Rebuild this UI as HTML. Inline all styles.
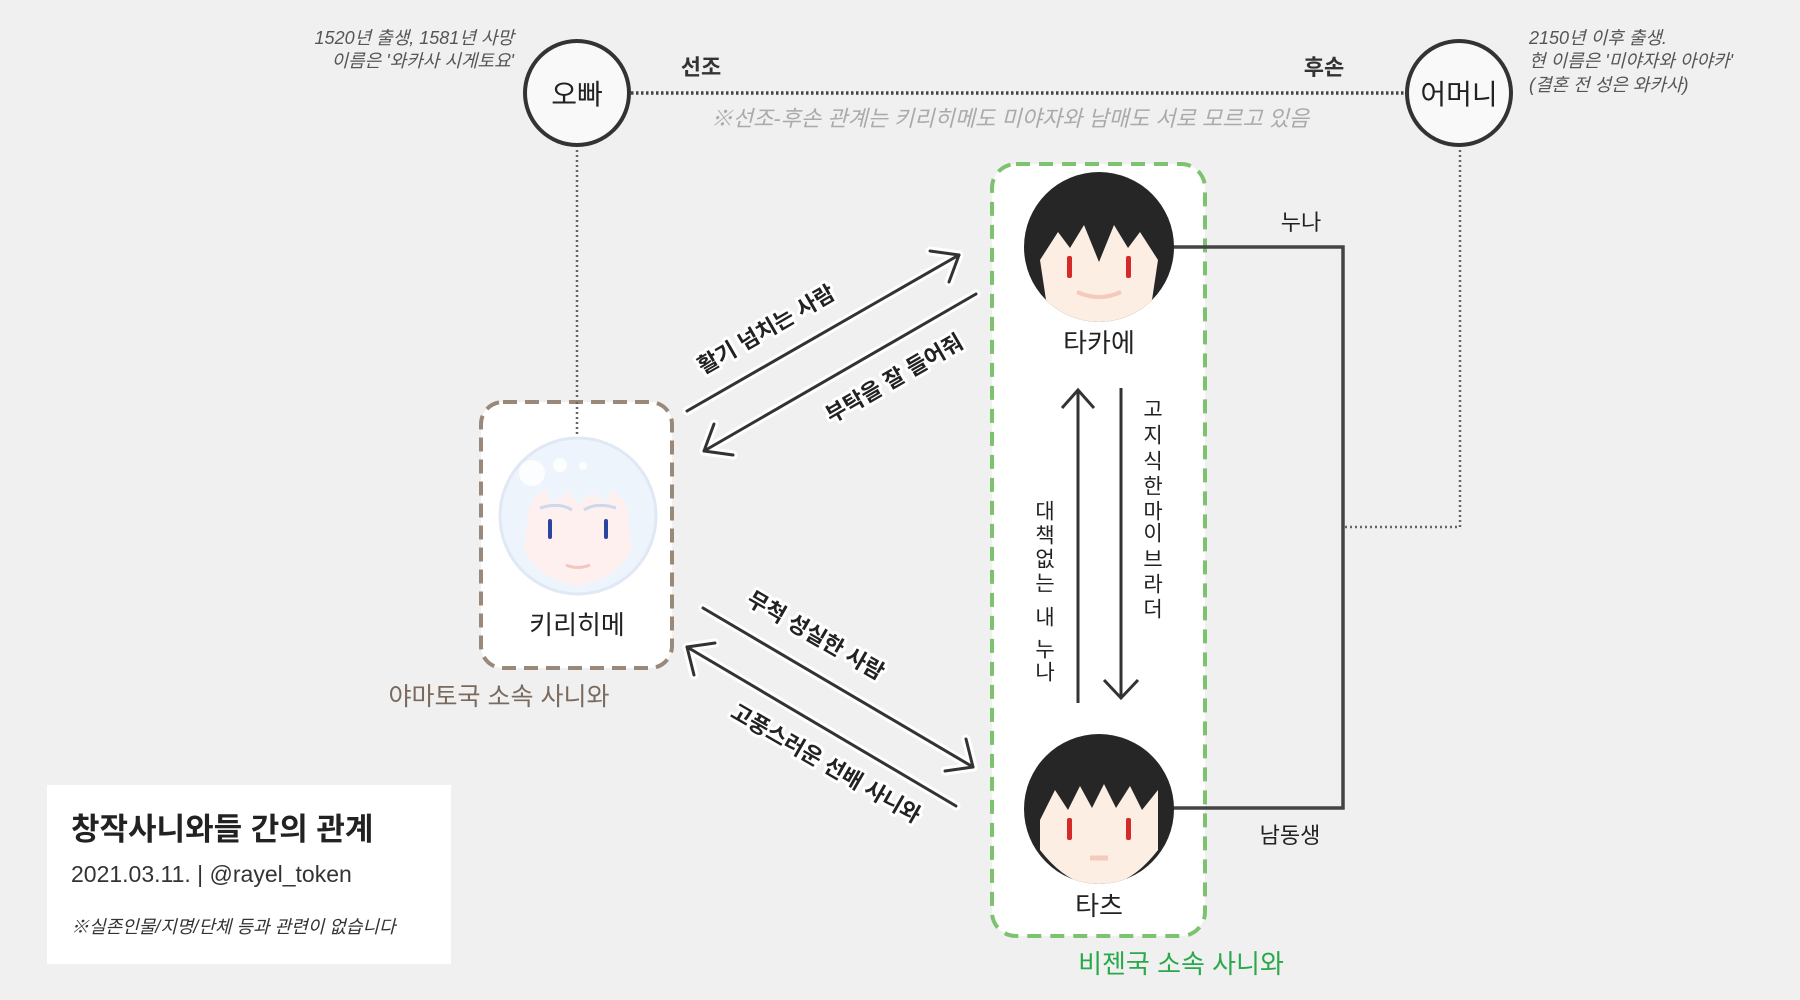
<!DOCTYPE html>
<html><head><meta charset="utf-8"><style>
html,body{margin:0;padding:0;background:#f0f0f0;}
body{width:1800px;height:1000px;overflow:hidden;position:relative;font-family:"Liberation Sans","Noto Sans CJK KR",sans-serif;}
svg{position:absolute;left:0;top:0;}
text{font-family:"Liberation Sans","Noto Sans CJK KR",sans-serif;}
</style></head><body>
<svg width="1800" height="1000" viewBox="0 0 1800 1000">
<g stroke="#666" stroke-width="2.5" stroke-dasharray="2 3" fill="none">
<line x1="631" y1="93" x2="1406" y2="93" stroke="#444" stroke-width="3.5" stroke-dasharray="2.5 2.5"/>
<line x1="577" y1="150" x2="577" y2="440"/>
<polyline points="1460,150 1460,527 1343,527"/>
</g>
<circle cx="577" cy="93" r="52" fill="#f9f9f9" stroke="#333" stroke-width="4"/>
<circle cx="1459" cy="93" r="52" fill="#f9f9f9" stroke="#333" stroke-width="4"/>
<text x="577" y="104" font-size="28" text-anchor="middle" fill="#222">오빠</text>
<text x="1459" y="104" font-size="28" text-anchor="middle" fill="#222">어머니</text>
<text x="701" y="75" font-size="22" font-weight="bold" text-anchor="middle" fill="#333">선조</text>
<text x="1324" y="75" font-size="22" font-weight="bold" text-anchor="middle" fill="#333">후손</text>
<text x="1010" y="126" font-size="22" font-style="italic" text-anchor="middle" fill="#aaa">※선조-후손 관계는 키리히메도 미야자와 남매도 서로 모르고 있음</text>
<g font-size="18" font-style="italic" fill="#555">
<text x="514" y="44" text-anchor="end">1520년 출생, 1581년 사망</text>
<text x="514" y="67" text-anchor="end">이름은 '와카사 시게토요'</text>
<text x="1529" y="44">2150년 이후 출생.</text>
<text x="1529" y="67">현 이름은 '미야자와 아야카'</text>
<text x="1529" y="91">(결혼 전 성은 와카사)</text>
</g>
<text x="1301" y="230" font-size="22" text-anchor="middle" fill="#222">누나</text>
<text x="1290" y="843" font-size="22" text-anchor="middle" fill="#222">남동생</text>
<rect x="481" y="402" width="191" height="266" rx="22" fill="#fff" stroke="#9a8878" stroke-width="4" stroke-dasharray="14 8"/>
<rect x="992" y="164" width="213" height="772" rx="24" fill="#fff" stroke="#7dc36f" stroke-width="4" stroke-dasharray="14 9"/>
<polyline points="1173,247 1343,247 1343,808 1173,808" fill="none" stroke="#444" stroke-width="3.5"/>
<line x1="577" y1="402" x2="577" y2="440" stroke="#666" stroke-width="2.5" stroke-dasharray="2 3"/>
<g>
<circle cx="578" cy="516" r="78" fill="#eef4fc" stroke="#dfe8f4" stroke-width="3"/>
<path d="M528,516 Q530,498 545,490 L552,503 L570,492 L578,505 L592,492 L605,503 L612,490 Q626,498 628,516 L632,550 Q615,580 578,586 Q541,580 524,550 Z" fill="#fdf0ee"/>
<path d="M540,508 Q560,502 572,510 M584,510 Q596,502 616,508" stroke="#c9d9ee" stroke-width="3" fill="none"/>
<rect x="548" y="519" width="4" height="20" rx="2" fill="#2c44a0"/>
<rect x="604" y="519" width="4" height="20" rx="2" fill="#2c44a0"/>
<path d="M566,565 Q578,570 590,565" stroke="#f3c7c0" stroke-width="3" fill="none"/>
<circle cx="532" cy="473" r="13" fill="#fff" opacity=".8"/>
<circle cx="560" cy="465" r="7" fill="#fff" opacity=".8"/>
<circle cx="583" cy="466" r="4" fill="#fff" opacity=".8"/>
</g>
<text x="577" y="634" font-size="26" text-anchor="middle" fill="#222">키리히메</text>
<text x="499" y="705" font-size="25" text-anchor="middle" fill="#7a6a5e">야마토국 소속 사니와</text>
<g>
<clipPath id="c1"><circle cx="1099" cy="247" r="75"/></clipPath>
<circle cx="1099" cy="247" r="75" fill="#262626"/>
<path d="M1040,260 L1058,232 L1070,248 L1084,225 L1099,262 L1114,225 L1128,248 L1140,232 L1158,260 L1152,300 Q1130,324 1099,324 Q1068,324 1046,300 Z" fill="#fdeee3" clip-path="url(#c1)"/>
<rect x="1067" y="256" width="5" height="22" rx="2" fill="#d42a2a"/>
<rect x="1126" y="256" width="5" height="22" rx="2" fill="#d42a2a"/>
<path d="M1077,292 Q1099,302 1121,292" stroke="#f3cabb" stroke-width="4" fill="none"/>
</g>
<text x="1099" y="352" font-size="26" text-anchor="middle" fill="#222">타카에</text>
<g>
<clipPath id="c2"><circle cx="1099" cy="809" r="75"/></clipPath>
<circle cx="1099" cy="809" r="75" fill="#262626"/>
<path d="M1040,820 L1055,790 L1068,810 L1080,786 L1092,808 L1104,784 L1116,808 L1130,786 L1142,810 L1158,790 L1158,850 Q1130,886 1099,886 Q1068,886 1040,850 Z" fill="#fdeee3" clip-path="url(#c2)"/>
<rect x="1067" y="818" width="5" height="22" rx="2" fill="#d42a2a"/>
<rect x="1126" y="818" width="5" height="22" rx="2" fill="#d42a2a"/>
<path d="M1090,858 L1108,858" stroke="#f3cabb" stroke-width="5"/>
</g>
<text x="1099" y="915" font-size="26" text-anchor="middle" fill="#222">타츠</text>
<text x="1181" y="973" font-size="26" text-anchor="middle" fill="#2aa84a">비젠국 소속 사니와</text>
<g stroke="#333" stroke-width="3" fill="none">
<line x1="1078" y1="703" x2="1078" y2="390"/>
<polyline points="1062,408 1078,390 1094,408"/>
<line x1="1121" y1="388" x2="1121" y2="698"/>
<polyline points="1104,680 1121,698 1138,680"/>
</g>
<g font-size="21" fill="#222" text-anchor="middle" dominant-baseline="central" font-family="Noto Sans CJK KR, sans-serif">
<text x="1045" y="512">대</text><text x="1045" y="536">책</text><text x="1045" y="560">없</text><text x="1045" y="584">는</text>
<text x="1045" y="618">내</text><text x="1045" y="650">누</text><text x="1045" y="673">나</text>
<text x="1153" y="410">고</text><text x="1153" y="436">지</text><text x="1153" y="462">식</text><text x="1153" y="487">한</text>
<text x="1153" y="512">마</text><text x="1153" y="534">이</text><text x="1153" y="560">브</text><text x="1153" y="585">라</text><text x="1153" y="610">더</text>
</g>
<g stroke="#fff" stroke-width="9" fill="none" stroke-linecap="round" stroke-linejoin="round">
<line x1="687" y1="411" x2="959" y2="255"/><polyline points="930,251 959,255 949,282"/>
<line x1="976" y1="294" x2="704" y2="451"/><polyline points="714,424 704,451 733,455"/>
<line x1="703" y1="608" x2="973" y2="767"/><polyline points="966,739 973,767 945,771"/>
<line x1="956" y1="806" x2="687" y2="647"/><polyline points="694,675 687,647 715,643"/>
</g>
<g stroke="#333" stroke-width="3" fill="none" stroke-linecap="round" stroke-linejoin="round">
<line x1="687" y1="411" x2="959" y2="255"/><polyline points="930,251 959,255 949,282"/>
<line x1="976" y1="294" x2="704" y2="451"/><polyline points="714,424 704,451 733,455"/>
<line x1="703" y1="608" x2="973" y2="767"/><polyline points="966,739 973,767 945,771"/>
<line x1="956" y1="806" x2="687" y2="647"/><polyline points="694,675 687,647 715,643"/>
</g>
<g font-size="22" font-weight="bold" fill="#222" stroke="#fff" stroke-width="6" paint-order="stroke" text-anchor="middle" stroke-linejoin="round">
<text transform="translate(770,336) rotate(-30)">활기 넘치는 사람</text>
<text transform="translate(898,385) rotate(-30)">부탁을 잘 들어줘</text>
<text transform="translate(812,642) rotate(30)">무척 성실한 사람</text>
<text transform="translate(822,770) rotate(30)">고풍스러운 선배 사니와</text>
</g>
<rect x="47" y="785" width="404" height="179" fill="#fff"/>
<text x="71" y="840" font-size="31" font-weight="bold" fill="#222">창작사니와들 간의 관계</text>
<text x="71" y="882" font-size="23" fill="#333">2021.03.11. | @rayel_token</text>
<text x="71" y="933" font-size="18" font-style="italic" fill="#333">※실존인물/지명/단체 등과 관련이 없습니다</text>
</svg>
</body></html>
